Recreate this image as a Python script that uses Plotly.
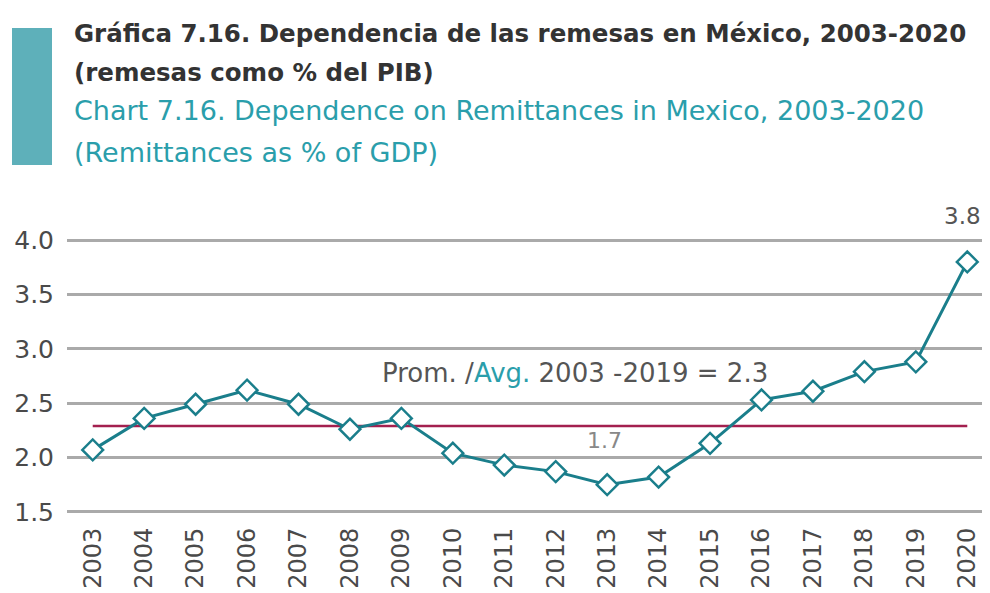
import plotly.graph_objects as go

years = ["2003", "2004", "2005", "2006", "2007", "2008", "2009", "2010", "2011",
         "2012", "2013", "2014", "2015", "2016", "2017", "2018", "2019", "2020"]
remittances = [2.07, 2.36, 2.49, 2.62, 2.49, 2.26, 2.36, 2.04, 1.93,
               1.87, 1.75, 1.82, 2.13, 2.53, 2.61, 2.79, 2.88, 3.80]
avg_value = [2.29] * len(years)
y_ticks = [1.5, 2.0, 2.5, 3.0, 3.5, 4.0]

TEAL = "#1a7e8b"
TEAL_LIGHT = "#2a9eab"
BAR = "#5eb0ba"
MAROON = "#a3204f"
GREY = "#4a4a4a"
FONT = "DejaVu Sans"

OFF = 8  # page body margin
W, H = 990, 593
L, R, T, B = 59, 5, 230, 87
pw, ph = W - L - R, H - T - B


def px(x):
    return (x - OFF - L) / pw


def py(y):
    return (H - B - (y - OFF)) / ph


fig = go.Figure()
fig.add_trace(go.Scatter(
    x=years, y=avg_value, mode="lines",
    line=dict(color=MAROON, width=2.5), hoverinfo="skip", showlegend=False))
fig.add_trace(go.Scatter(
    x=years, y=remittances, mode="lines+markers",
    line=dict(color=TEAL, width=3),
    marker=dict(symbol="diamond", size=16, color="white",
                line=dict(color=TEAL, width=2.5)),
    showlegend=False))

ann = []
ann.append(dict(text="<b>Gráfica 7.16. Dependencia de las remesas en México, 2003-2020</b>",
                x=px(72), y=py(33), font=dict(size=24.5, color="#333333")))
ann.append(dict(text="<b>(remesas como % del PIB)</b>",
                x=px(72), y=py(72), font=dict(size=24.5, color="#333333")))
ann.append(dict(text="Chart 7.16. Dependence on Remittances in Mexico, 2003-2020",
                x=px(72), y=py(111), font=dict(size=27, color=TEAL_LIGHT)))
ann.append(dict(text="(Remittances as % of GDP)",
                x=px(72), y=py(152), font=dict(size=27, color=TEAL_LIGHT)))
for a in ann:
    a.update(xref="paper", yref="paper", xanchor="left", yanchor="middle",
             showarrow=False, font=dict(family=FONT, **a["font"]))

ann.append(dict(
    text="Prom. /<span style='color:%s'>Avg.</span> 2003 -2019 = 2.3" % TEAL_LIGHT,
    xref="paper", yref="paper", x=px(575), y=py(373), xanchor="center", yanchor="middle",
    showarrow=False, font=dict(family=FONT, size=26, color="#555555")))
ann.append(dict(text="3.8", xref="x", yref="paper", x=len(years) - 1, y=py(216),
                xanchor="center", yanchor="middle", showarrow=False, xshift=-5,
                font=dict(family=FONT, size=23, color="#555555")))
ann.append(dict(text="1.7", xref="x", yref="paper", x=years.index("2013"), y=py(440),
                xanchor="center", yanchor="middle", showarrow=False, xshift=-3,
                font=dict(family=FONT, size=22, color="#888888")))

fig.update_layout(
    width=W, height=H,
    margin=dict(l=L, r=R, t=T, b=B),
    paper_bgcolor="white", plot_bgcolor="white",
    annotations=ann,
    shapes=[dict(type="rect", xref="paper", yref="paper",
                 x0=px(12), x1=px(52), y0=py(165), y1=py(28),
                 fillcolor=BAR, line=dict(width=0), layer="above")],
    xaxis=dict(type="category", range=[-0.5, 17.5], showgrid=False,
               tickangle=-90, ticklabelstandoff=8, automargin=False,
               tickfont=dict(family=FONT, size=24, color=GREY), showline=False),
    yaxis=dict(range=[1.48, 4.02], tickvals=y_ticks,
               ticktext=["%.1f" % v for v in y_ticks],
               showgrid=True, gridcolor="#aaaaaa", gridwidth=2.5,
               zeroline=False, ticklabelstandoff=12, automargin=False,
               tickfont=dict(family=FONT, size=25, color=GREY)),
)

fig.write_html("out.html")
